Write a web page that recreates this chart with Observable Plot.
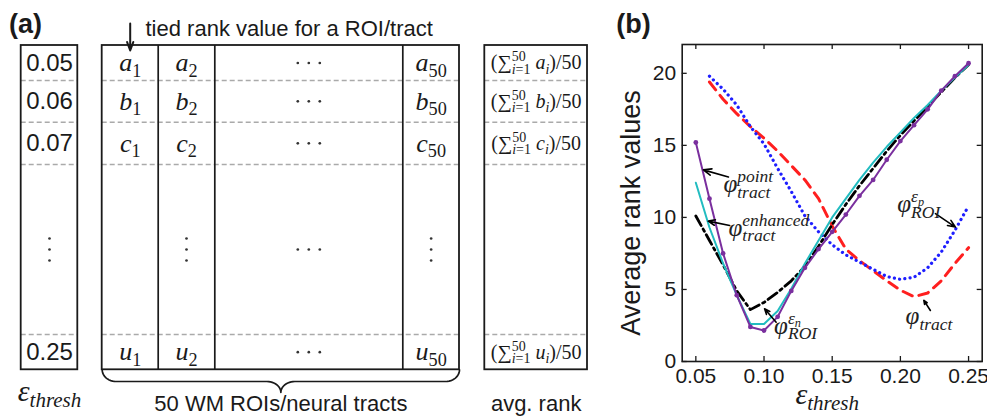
<!DOCTYPE html>
<html>
<head>
<meta charset="utf-8">
<script src="https://cdn.jsdelivr.net/npm/d3@7"></script>
<script src="https://cdn.jsdelivr.net/npm/@observablehq/plot@0.6"></script>
<style>
html, body { margin: 0; padding: 0; background: #fff; }
#wrap { position: relative; width: 987px; height: 419px; overflow: hidden; background: #fff; }
#pa { position: absolute; left: 0; top: 0; }
#pb { position: absolute; left: 600px; top: 0; }
svg { overflow: visible; }
</style>
</head>
<body>
<div id="wrap"><div id="pa"></div><div id="pb"></div></div>
<script>
// ---------------- DATA ----------------
// Panel (a): schematic table
const thresholdLabels = ["0.05", "0.06", "0.07", "⋮", "0.25"];
const rowLetters = ["a", "b", "c", null, "u"];
const roiIndices = ["1", "2", "⋯", "50"];
const headerText = "tied rank value for a ROI/tract";
const epsLabel = "ε_{thresh}";
const roiLabel = "50 WM ROIs/neural tracts";
const avgLabel = "avg. rank";

// Panel (b): average rank values vs epsilon threshold
const epsThresh = [0.05, 0.06, 0.07, 0.08, 0.09, 0.10, 0.11, 0.12, 0.13, 0.14, 0.15,
                   0.16, 0.17, 0.18, 0.19, 0.20, 0.21, 0.22, 0.23, 0.24, 0.25];
const pointTract    = [15.2, 11.3, 7.5, 4.6, 2.4, 2.15, 3.1, 4.9, 6.5, 7.8, 9.0,
                       10.2, 11.5, 12.6, 14.0, 15.3, 16.4, 17.5, 18.8, 19.8, 20.7];
const enhancedTract = [12.4, 9.3, 6.8, 4.6, 2.6, 2.6, 3.5, 5.05, 6.8, 8.4, 10.0,
                       11.3, 12.6, 13.8, 14.9, 15.9, 16.9, 17.8, 18.8, 19.7, 20.6];
const roiEn         = [10.1, 8.4, 6.7, 4.9, 3.6, 4.1, 4.8, 5.6, 6.6, 8.0, 9.5,
                       10.9, 12.2, 13.4, 14.6, 15.7, 16.7, 17.7, 18.7, 19.7, 20.6];
const epsThresh2 = [0.06, 0.07, 0.08, 0.09, 0.10, 0.11, 0.12, 0.13, 0.14, 0.15,
                    0.16, 0.17, 0.18, 0.19, 0.20, 0.21, 0.22, 0.23, 0.24, 0.25];
const tract = [19.4, 18.2, 17.2, 16.3, 15.5, 14.6, 13.6, 12.6, 11.3, 9.4,
               7.8, 7.0, 6.3, 5.6, 4.95, 4.5, 4.75, 5.6, 6.8, 7.9];
const roiEp = [19.8, 18.9, 17.8, 16.3, 15.1, 13.4, 11.8, 10.1, 9.0, 8.1,
               7.4, 6.9, 6.4, 5.9, 5.7, 5.85, 6.5, 7.6, 9.1, 10.8];
const xTicks = [0.05, 0.10, 0.15, 0.20, 0.25];
const yTicks = [0, 5, 10, 15, 20];
const yAxisLabel = "Average rank values";
const xAxisLabel = "ε_{thresh}";

// annotation labels (data coordinates) with arrows
const annotations = [
  {label: "φ^{point}_{tract}",    x: 0.0702, y: 11.74, ax1: 0.0739, ay1: 12.81, ax2: 0.0555, ay2: 13.3},
  {label: "φ^{enhanced}_{tract}", x: 0.0739, y: 8.72,  ax1: 0.0748, ay1: 9.44,  ax2: 0.0591, ay2: 9.74},
  {label: "φ^{ε_{n}}_{ROI}",      x: 0.1074, y: 1.94,  ax1: 0.1089, ay1: 2.73,  ax2: 0.1004, ay2: 3.66},
  {label: "φ^{ε_{p}}_{ROI}",      x: 0.1977, y: 10.35, ax1: 0.2257, ay1: 10.26, ax2: 0.2403, ay2: 9.33},
  {label: "φ_{tract}",            x: 0.2038, y: 2.57,  ax1: 0.2220, ay1: 3.54,  ax2: 0.2172, ay2: 4.24}
];

// ---------------- STYLE / LAYOUT ----------------
const sans = "Liberation Sans, Arial, Helvetica, sans-serif";
const serif = "Liberation Serif, Times New Roman, serif";
const ink = "#1a1a1a";
const colors = {point: "#7a2f9e", enhanced: "#22bcc0", roiEn: "#000000", tract: "#ff1f1f", roiEp: "#1f1fff"};

const A = {
  epsX: [20.7, 77.3],
  mainX: [101.7, 157.7, 214.3, 402.3, 459],
  avgX: [484.3, 587],
  rowY: [45, 80, 121.7, 164, 334, 369.3],
  headerX: 145, headerBaseline: 35, arrowY: [23, 50],
  labelBaseline: 410, epsBaseline: 400,
  braceY: [369.3, 381, 392],
  tagX: 25, tagBaseline: 32
};
const mid = (a, b) => (a + b) / 2;
const boxTop = A.rowY[0], boxBottom = A.rowY[A.rowY.length - 1];
const rowCenters = thresholdLabels.map((_, i) => mid(A.rowY[i], A.rowY[i + 1]));
const colCenters = roiIndices.map((_, j) => mid(A.mainX[j], A.mainX[j + 1]));
const epsC = mid(A.epsX[0], A.epsX[1]);
const avgC = mid(A.avgX[0], A.avgX[1]);
const mainC = mid(A.mainX[0], A.mainX[A.mainX.length - 1]);

const boxes = [
  {x1: A.epsX[0], x2: A.epsX[1]},
  {x1: A.mainX[0], x2: A.mainX[A.mainX.length - 1]},
  {x1: A.avgX[0], x2: A.avgX[1]}
].map(b => ({...b, y1: boxTop, y2: boxBottom}));
const separators = boxes.flatMap(b => A.rowY.slice(1, -1).map(y => ({y, x1: b.x1, x2: b.x2})));

const epsCells = thresholdLabels.map((t, i) => ({x: epsC, y: rowCenters[i], t, gap: rowLetters[i] === null}));
const mainCells = [];
rowLetters.forEach((l, i) => roiIndices.forEach((k, j) => {
  let kind;
  if (k === "⋯") kind = "hdots";
  else if (l === null) kind = j === 0 ? "blank" : "vdots";
  else kind = "text";
  mainCells.push({x: colCenters[j], y: rowCenters[i], kind, t: l ? `${l}_{${k}}` : ""});
}));
const avgCells = rowLetters.map((l, i) => l === null ? null :
  ({x: avgC, y: rowCenters[i], t: `(∑^{50}_{i=1} ${l}_{i})/50`})).filter(d => d);
const hDots = mainCells.filter(d => d.kind === "hdots");
const vDots = mainCells.filter(d => d.kind === "vdots").concat(epsCells.filter(d => d.gap));

function bracePoints(x0, x1, yT, yMid, yTip, r = 14, n = 12) {
  const xc = (x0 + x1) / 2, ry = yMid - yT, rt = yTip - yMid, pts = [];
  for (let k = 0; k <= n; k++) { const t = k / n * Math.PI / 2; pts.push({x: x0 + r * (1 - Math.cos(t)), y: yT + ry * Math.sin(t)}); }
  for (let k = 0; k <= n; k++) { const t = k / n * Math.PI / 2; pts.push({x: xc - r + r * Math.sin(t), y: yMid + rt * (1 - Math.cos(t))}); }
  for (let k = n; k >= 0; k--) { const t = k / n * Math.PI / 2; pts.push({x: xc + r - r * Math.sin(t), y: yMid + rt * (1 - Math.cos(t))}); }
  for (let k = n; k >= 0; k--) { const t = k / n * Math.PI / 2; pts.push({x: x1 - r * (1 - Math.cos(t)), y: yT + ry * Math.sin(t)}); }
  return pts;
}
const brace = bracePoints(A.mainX[0], A.mainX[A.mainX.length - 1], A.braceY[0], A.braceY[1], A.braceY[2]);

const dotOpts = {x: "x", y: "y", r: 1.35, fill: "#333"};

const plotA = Plot.plot({
  width: 600, height: 419, margin: 0,
  x: {domain: [0, 600], range: [0, 600], axis: null},
  y: {domain: [0, 419], range: [0, 419], axis: null},
  style: {fontFamily: sans, background: "transparent", color: ink},
  marks: [
    Plot.ruleY(separators, {y: "y", x1: "x1", x2: "x2", stroke: "#aaaaaa", strokeWidth: 1.5, strokeDasharray: "5,3"}),
    Plot.ruleX(A.mainX.slice(1, -1), {x: d => d, y1: boxTop, y2: boxBottom, stroke: ink, strokeWidth: 1.7}),
    Plot.rect(boxes, {x1: "x1", x2: "x2", y1: "y1", y2: "y2", fill: "none", stroke: ink, strokeWidth: 1.8}),
    Plot.text(epsCells.filter(d => !d.gap), {x: "x", y: "y", text: "t", fontSize: 24, fontFamily: sans, fill: ink}),
    Plot.text(mainCells.filter(d => d.kind === "text"), {x: "x", y: "y", text: "t", fontSize: 26, fontFamily: serif, fontStyle: "italic", fill: ink}),
    Plot.text(avgCells, {x: "x", y: "y", text: "t", fontSize: 20, fontFamily: serif, fill: ink}),
    ...[-11, 0, 11].map(o => Plot.dot(hDots, {...dotOpts, dx: o})),
    ...[-11, 0, 11].map(o => Plot.dot(vDots, {...dotOpts, dy: o})),
    Plot.arrow([{x: colCenters[0], y1: A.arrowY[0], y2: A.arrowY[1]}],
      {x1: "x", x2: "x", y1: "y1", y2: "y2", stroke: ink, strokeWidth: 2, headLength: 11, headAngle: 40}),
    Plot.text([headerText], {x: A.headerX, y: A.headerBaseline, text: d => d, textAnchor: "start", lineAnchor: "bottom", fontSize: 22, fill: ink}),
    Plot.line(brace, {x: "x", y: "y", stroke: ink, strokeWidth: 1.7}),
    Plot.text([epsLabel], {x: epsC, y: A.epsBaseline, text: d => d, lineAnchor: "bottom", fontSize: 30, fontFamily: serif, fontStyle: "italic", fill: ink}),
    Plot.text([roiLabel], {x: mainC, y: A.labelBaseline, text: d => d, lineAnchor: "bottom", fontSize: 22, fill: ink}),
    Plot.text([avgLabel], {x: avgC, y: A.labelBaseline, text: d => d, lineAnchor: "bottom", fontSize: 22, fill: ink}),
    Plot.text(["(a)"], {x: A.tagX, y: A.tagBaseline, text: d => d, lineAnchor: "bottom", fontSize: 27, fontWeight: "bold", fill: ink})
  ]
});

// ---------------- PANEL (b) ----------------
const long = (xs, ys) => xs.map((x, i) => ({x, v: ys[i]}));
const pointData = long(epsThresh, pointTract);
const enhancedData = long(epsThresh, enhancedTract);
const roiEnData = long(epsThresh, roiEn);
const tractData = long(epsThresh2, tract);
const roiEpData = long(epsThresh2, roiEp);

const B = {width: 387, height: 419, ml: 81.7, mr: 5.3, mt: 44, mb: 58};
const xDom = [0.04, 0.26], yDom = [0, 22];
const tickPx = 5;
const tLenY = tickPx * (yDom[1] - yDom[0]) / (B.height - B.mt - B.mb);
const tLenX = tickPx * (xDom[1] - xDom[0]) / (B.width - B.ml - B.mr);

const plotB = Plot.plot({
  width: B.width, height: B.height,
  marginLeft: B.ml, marginRight: B.mr, marginTop: B.mt, marginBottom: B.mb,
  x: {domain: xDom}, y: {domain: yDom},
  style: {fontFamily: sans, fontSize: "21px", background: "transparent", color: ink},
  marks: [
    Plot.line(tractData, {x: "x", y: "v", stroke: colors.tract, strokeWidth: 3, strokeDasharray: "10,7"}),
    Plot.line(roiEpData, {x: "x", y: "v", stroke: colors.roiEp, strokeWidth: 3.2, strokeDasharray: "0.1,5.2", strokeLinecap: "round"}),
    Plot.line(roiEnData, {x: "x", y: "v", stroke: colors.roiEn, strokeWidth: 2.8, strokeDasharray: "11,4,2.5,4"}),
    Plot.line(enhancedData, {x: "x", y: "v", stroke: colors.enhanced, strokeWidth: 2}),
    Plot.line(pointData, {x: "x", y: "v", stroke: colors.point, strokeWidth: 2}),
    Plot.dot(pointData, {x: "x", y: "v", r: 2.4, fill: colors.point}),
    Plot.frame({stroke: ink, strokeWidth: 1.6}),
    Plot.ruleX(xTicks, {x: d => d, y1: yDom[0], y2: yDom[0] + tLenY, stroke: ink, strokeWidth: 1.3}),
    Plot.ruleX(xTicks, {x: d => d, y1: yDom[1] - tLenY, y2: yDom[1], stroke: ink, strokeWidth: 1.3}),
    Plot.ruleY(yTicks, {y: d => d, x1: xDom[0], x2: xDom[0] + tLenX, stroke: ink, strokeWidth: 1.3}),
    Plot.ruleY(yTicks, {y: d => d, x1: xDom[1] - tLenX, x2: xDom[1], stroke: ink, strokeWidth: 1.3}),
    Plot.axisX({ticks: xTicks, tickSize: 0, tickPadding: 7, fontSize: 21, tickFormat: d3.format(".2f"), label: null}),
    Plot.axisY({ticks: yTicks, tickSize: 0, tickPadding: 6, fontSize: 21, label: null}),
    Plot.arrow(annotations, {x1: "ax1", y1: "ay1", x2: "ax2", y2: "ay2", stroke: "#000", strokeWidth: 1.6, headLength: 9, headAngle: 45}),
    Plot.text(annotations, {x: "x", y: "y", text: "label", textAnchor: "start", lineAnchor: "bottom", fontSize: 25, fontFamily: serif, fontStyle: "italic", fill: "#222"}),
    Plot.text([yAxisLabel], {frameAnchor: "left", text: d => d, rotate: -90, textAnchor: "middle", dx: -51, dy: 10, fontSize: 27, fill: ink}),
    Plot.text([xAxisLabel], {frameAnchor: "bottom", text: d => d, lineAnchor: "bottom", dx: -5, dy: 42, fontSize: 30, fontFamily: serif, fontStyle: "italic", fill: ink}),
    Plot.text(["(b)"], {frameAnchor: "top-left", text: d => d, textAnchor: "middle", lineAnchor: "bottom", dx: -48.7, dy: -12, fontSize: 27, fontWeight: "bold", fill: ink})
  ]
});

document.getElementById("pa").appendChild(plotA);
document.getElementById("pb").appendChild(plotB);

// ------------- math markup (sub/superscripts) into real tspans -------------
const SVGNS = "http://www.w3.org/2000/svg";
const RATIO = 0.7;
function span(parent, text, size, off, state, italic) {
  const ts = document.createElementNS(SVGNS, "tspan");
  ts.textContent = text;
  ts.setAttribute("font-size", size);
  ts.setAttribute("font-style", italic ? "italic" : "normal");
  const dy = off - state.cur;
  if (dy) ts.setAttribute("dy", dy);
  if (state.dx) ts.setAttribute("dx", state.dx);
  state.cur = off; state.dx = 0;
  parent.appendChild(ts);
  return ts.getComputedTextLength();
}
function emit(parent, str, size, off, state) {
  let w = 0, i = 0;
  while (i < str.length) {
    const c = str[i];
    if (c === "^" || c === "_") {
      let sup = null, sub = null;
      while (i < str.length && (str[i] === "^" || str[i] === "_")) {
        const kind = str[i++];
        let content;
        if (str[i] === "{") {
          let depth = 1, j = i + 1;
          while (j < str.length && depth) { if (str[j] === "{") depth++; else if (str[j] === "}") depth--; j++; }
          content = str.slice(i + 1, j - 1); i = j;
        } else { content = str[i++]; }
        if (kind === "^") sup = content; else sub = content;
      }
      const ss = size * RATIO;
      let w1 = 0, w2 = 0;
      if (sup !== null) w1 = emit(parent, sup, ss, off - size * 0.4, state);
      if (sub !== null) {
        if (sup !== null) state.dx -= w1;
        w2 = emit(parent, sub, ss, off + size * 0.22, state);
        if (sup !== null && w1 > w2) state.dx += w1 - w2;
      }
      w += Math.max(w1, w2);
    } else {
      let j = i;
      while (j < str.length && str[j] !== "^" && str[j] !== "_") j++;
      const run = str.slice(i, j);
      const parts = run.match(/(\p{L}+|[^\p{L}]+)/gu) || [];
      for (const p of parts) w += span(parent, p, size, off, state, /\p{L}/u.test(p));
      i = j;
    }
  }
  return w;
}
function mathify(root) {
  root.querySelectorAll("text").forEach(t => {
    const s = t.textContent;
    if (!/[_^]/.test(s)) return;
    const size = parseFloat(getComputedStyle(t).fontSize);
    t.textContent = "";
    t.style.whiteSpace = "pre";
    emit(t, s, size, 0, {cur: 0, dx: 0});
  });
}
mathify(plotA);
mathify(plotB);
</script>
</body>
</html>
